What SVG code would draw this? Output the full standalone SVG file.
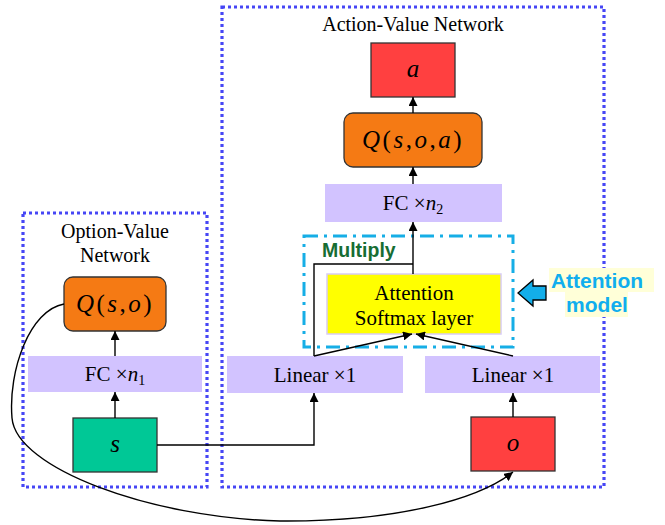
<svg xmlns="http://www.w3.org/2000/svg" width="665" height="525" viewBox="0 0 665 525">
<defs>
<style>
.lbl{font-family:"Liberation Serif","Times New Roman",serif;font-size:21px;fill:#000;text-anchor:middle}
.ttl{font-family:"Liberation Serif","Times New Roman",serif;font-size:20px;fill:#000;text-anchor:middle}
.math{font-family:"Liberation Serif","Times New Roman",serif;font-size:25px;fill:#000;text-anchor:middle;font-style:italic}
.up{font-style:normal}
.net{fill:none;stroke:#4646F5;stroke-width:3.2;stroke-dasharray:3 3}
.lav{fill:#D2C3FF}
.edge{fill:none;stroke:#000;stroke-width:1.4}
.box{stroke:#333;stroke-width:1.3}
.am{font-family:"Liberation Sans",Arial,sans-serif;font-size:21px;font-weight:bold;fill:#10AEEE;text-anchor:middle}
</style>
<marker id="arr" viewBox="0 0 10 10" refX="10" refY="5" markerWidth="9" markerHeight="9" markerUnits="userSpaceOnUse" orient="auto">
<path d="M0,0 L10,5 L0,10 z" fill="#000"/>
</marker>
</defs>
<rect width="665" height="525" fill="#fff"/>

<g id="option-value-network">
<rect class="net" x="23" y="213" width="184" height="274"/>
<text class="ttl" x="115" y="238">Option-Value</text>
<text class="ttl" x="115" y="262">Network</text>
</g>
<g id="action-value-network">
<rect class="net" x="222" y="7" width="382" height="480"/>
<text class="ttl" x="413" y="31">Action-Value Network</text>
</g>
<g id="attention-group">
<rect x="304" y="236" width="209" height="111" fill="none" stroke="#16AEE6" stroke-width="3" stroke-dasharray="14 6 3 6"/>
<text x="322" y="257" font-family="Liberation Sans,Arial,sans-serif" font-size="19.5" font-weight="bold" fill="#176D33">Multiply</text>
</g>

<g id="q-so">
<rect class="box" x="64" y="277" width="102" height="54" rx="9" fill="#F57A14"/>
<text class="math" x="115" y="312" letter-spacing="2.5">Q<tspan class="up">(</tspan>s<tspan class="up">,</tspan>o<tspan class="up">)</tspan></text>
</g>
<g id="fc-n1">
<rect class="lav" x="28" y="356" width="174" height="36"/>
<text class="lbl" x="115" y="381">FC ×<tspan font-style="italic">n</tspan><tspan font-size="14" dy="4">1</tspan></text>
</g>
<g id="s">
<rect class="box" x="73" y="418" width="84" height="54" fill="#00C896"/>
<text class="math" x="115" y="452">s</text>
</g>
<g id="a">
<rect class="box" x="371" y="43" width="84" height="54" fill="#FF4040"/>
<text class="math" x="413" y="77">a</text>
</g>
<g id="q-soa">
<rect class="box" x="344" y="113" width="138" height="54" rx="9" fill="#F57A14"/>
<text class="math" x="413" y="148" letter-spacing="2.5">Q<tspan class="up">(</tspan>s<tspan class="up">,</tspan>o<tspan class="up">,</tspan>a<tspan class="up">)</tspan></text>
</g>
<g id="fc-n2">
<rect class="lav" x="325" y="184" width="177" height="38"/>
<text class="lbl" x="413" y="210">FC ×<tspan font-style="italic">n</tspan><tspan font-size="14" dy="4">2</tspan></text>
</g>
<g id="attention-softmax">
<rect x="327" y="274" width="174" height="60" fill="#FFFF00" stroke="#D8CCF5" stroke-width="1.5"/>
<text class="lbl" x="414" y="300">Attention</text>
<text class="lbl" x="414" y="325">Softmax layer</text>
</g>
<g id="linear-left">
<rect class="lav" x="227" y="356" width="176" height="37"/>
<text class="lbl" x="315" y="382">Linear ×1</text>
</g>
<g id="linear-right">
<rect class="lav" x="425" y="356" width="175" height="37"/>
<text class="lbl" x="513" y="382">Linear ×1</text>
</g>
<g id="o">
<rect class="box" x="471" y="417" width="84" height="54" fill="#FF4040"/>
<text class="math" x="513" y="451">o</text>
</g>
<g id="attention-model-label">
<rect x="549" y="268" width="105" height="24" fill="#FFFFD8"/>
<rect x="565" y="292" width="63" height="25" fill="#FFFFD8"/>
<text class="am" x="597" y="288">Attention</text>
<text class="am" x="597" y="312">model</text>
<path d="M518,293 L533,280 L533,286 L546,286 L546,300 L533,300 L533,306 Z" fill="#13AEEA" stroke="#000" stroke-width="1.3"/>
</g>

<g id="connectors">
<line class="edge" x1="115" y1="418" x2="115" y2="392" marker-end="url(#arr)"/>
<line class="edge" x1="115" y1="356" x2="115" y2="331" marker-end="url(#arr)"/>
<polyline class="edge" points="157,445 314,445 314,393" marker-end="url(#arr)"/>
<line class="edge" x1="513" y1="417" x2="513" y2="393" marker-end="url(#arr)"/>
<line class="edge" x1="314" y1="356" x2="412" y2="334" marker-end="url(#arr)"/>
<line class="edge" x1="513" y1="356" x2="416" y2="334" marker-end="url(#arr)"/>
<polyline class="edge" points="314,356 314,264 413,264"/>
<line class="edge" x1="413" y1="274" x2="413" y2="222" marker-end="url(#arr)"/>
<line class="edge" x1="413" y1="184" x2="413" y2="167" marker-end="url(#arr)"/>
<line class="edge" x1="413" y1="113" x2="413" y2="97" marker-end="url(#arr)"/>
<path class="edge" d="M64,304 C30,310 8,370 12,418 C16,468 150,518 280,521 C400,522 480,498 513,472" marker-end="url(#arr)"/>
</g>
</svg>
